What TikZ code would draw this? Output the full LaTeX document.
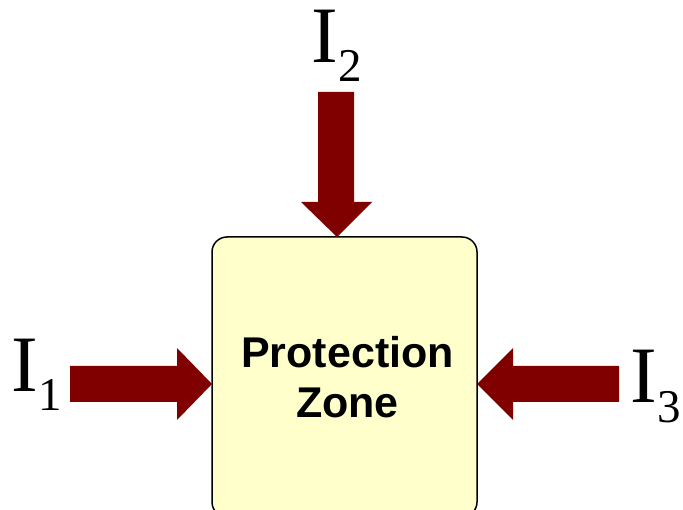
\documentclass[tikz,border=0pt]{standalone}
\usepackage{fontspec}
\setmainfont{Liberation Serif}
\newfontfamily\boxfont{Liberation Sans}
\definecolor{arrowred}{HTML}{800000}
\definecolor{boxfill}{HTML}{FFFFCC}
\begin{document}
\begin{tikzpicture}[x=1pt,y=-1pt,
  zone/.style={draw=black, line width=1.5pt, fill=boxfill, rounded corners=15pt,
    minimum width=265pt, minimum height=280pt, inner sep=0pt, align=center,
    font=\boxfont\bfseries\fontsize{43}{50}\selectfont},
  blockarrow/.style={fill=arrowred, draw=none},
  cur/.style={anchor=base west, inner sep=0pt, font=\fontsize{80}{80}\selectfont}]
\useasboundingbox (0,0) rectangle (683,510);
\node[zone] (zone) at (344.5,377) {\hspace*{6pt}Protection\\\hspace*{6pt}Zone};
% arrow tips on the box border
\coordinate (tipT) at (337,237);
\coordinate (tipL) at (212,384);
\coordinate (tipR) at (477,384);
% top arrow
\fill[blockarrow] (318,92) -- (354,92) -- (354,202) -- (372,202) -- (tipT)
  -- (301,202) -- (318,202) -- cycle;
% left arrow
\fill[blockarrow] (70,366) -- (177,366) -- (177,348) -- (tipL) -- (177,420)
  -- (177,402) -- (70,402) -- cycle;
% right arrow
\fill[blockarrow] (619,366) -- (513,366) -- (513,348) -- (tipR) -- (513,420)
  -- (513,402) -- (619,402) -- cycle;
% current labels
\node[cur] (i2) at (311.5,63) {I\raisebox{-19pt}{\fontsize{47}{47}\selectfont 2}};
\node[cur] (i1) at (11.5,392) {I\raisebox{-19pt}{\fontsize{47}{47}\selectfont 1}};
\node[cur] (i3) at (630.5,403) {I\raisebox{-20pt}{\fontsize{47}{47}\selectfont 3}};
\end{tikzpicture}
\end{document}
